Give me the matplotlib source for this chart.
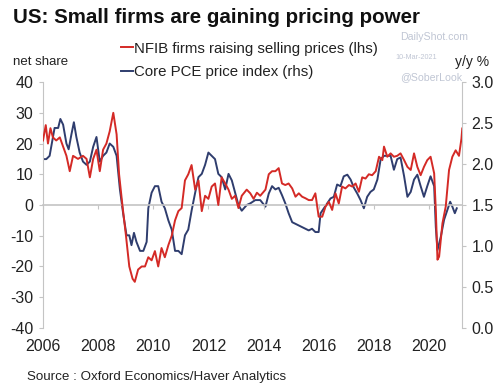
import matplotlib
matplotlib.use('Agg')
import matplotlib.pyplot as plt
import numpy as np

plt.rcParams['font.family'] = ['Liberation Sans', 'DejaVu Sans']
plt.rcParams['axes.unicode_minus'] = False

# NFIB firms raising selling prices, net share (lhs)
nfib_years = [2006.00, 2006.10, 2006.18, 2006.27, 2006.36, 2006.48, 2006.61, 2006.73, 2006.85,
              2006.97, 2007.09, 2007.27, 2007.45, 2007.58, 2007.70, 2007.82, 2007.94, 2008.06,
              2008.18, 2008.30, 2008.42, 2008.55, 2008.67, 2008.76, 2008.88, 2009.01, 2009.13,
              2009.25, 2009.33, 2009.45, 2009.58, 2009.70, 2009.82, 2009.94, 2010.06, 2010.18,
              2010.30, 2010.42, 2010.55, 2010.67, 2010.79, 2010.91, 2011.03, 2011.15, 2011.27,
              2011.39, 2011.52, 2011.64, 2011.76, 2011.88, 2012.00, 2012.12, 2012.24, 2012.36,
              2012.48, 2012.61, 2012.73, 2012.85, 2012.97, 2013.09, 2013.21, 2013.39,
              2013.52, 2013.64, 2013.76, 2013.88, 2014.07, 2014.19, 2014.31, 2014.43, 2014.55,
              2014.67, 2014.79, 2014.91, 2015.04, 2015.16, 2015.28, 2015.40, 2015.52, 2015.64,
              2015.76, 2015.88, 2016.00, 2016.13, 2016.25, 2016.37, 2016.49, 2016.61, 2016.73,
              2016.85, 2016.97, 2017.10, 2017.22, 2017.34, 2017.46, 2017.58, 2017.70, 2017.82,
              2017.94, 2018.07, 2018.19, 2018.31, 2018.37, 2018.49, 2018.61, 2018.73, 2018.85,
              2018.97, 2019.10, 2019.22, 2019.34, 2019.46, 2019.58, 2019.70, 2019.82, 2019.94,
              2020.06, 2020.19, 2020.25, 2020.31, 2020.37, 2020.49, 2020.61, 2020.73, 2020.85,
              2020.97, 2021.09, 2021.18, 2021.21]
nfib = [21, 26, 20, 25, 22, 21, 22, 19, 16,
        11, 16, 15, 16, 15, 9, 15, 18, 11,
        18, 20, 24, 30, 23, 10, 0, -10, -20,
        -24, -25, -21, -20, -20, -17, -18, -15, -20,
        -14, -17, -13, -10, -5, -2, -1, 8, 10,
        13, 5, 8, -2, 3, 2, 6, 7, 0,
        9, 7, 5, 2, 3, -1, 3, 5,
        3.8, 2, 4, 3, 5, 10, 11, 11, 12,
        7, 6.5, 7, 5.4, 2.7, 3.8, 2.7, 2.2, 1.6,
        1.6, 3.8, -3.8, -3.8, -0.5, 1, -1.6, 3.8, 0.5,
        6, 5.4, 6.5, 6, 7, 4.3, 9, 8.6, 10,
        9.7, 11, 15.7, 14.6, 19, 15.7, 16.8, 15.7, 16,
        16.8, 14.6, 12.4, 11.4, 16.8, 12.4, 9.7, 12.4, 14.6,
        15.7, 10.3, -1.6, -17.8, -16.8, -6, -0.5, 11.4, 15.7,
        17.8, 16, 21.6, 24.9]

# Core PCE price index, y/y % (rhs)
pce_years = [2006.00, 2006.12, 2006.24, 2006.36, 2006.42, 2006.55, 2006.63, 2006.73, 2006.85,
             2006.93, 2007.03, 2007.12, 2007.21, 2007.33, 2007.45, 2007.58, 2007.70, 2007.82,
             2007.94, 2008.06, 2008.18, 2008.30, 2008.42, 2008.55, 2008.67, 2008.79, 2008.91,
             2009.03, 2009.13, 2009.21, 2009.30, 2009.39, 2009.52, 2009.64, 2009.76, 2009.82,
             2009.94, 2010.06, 2010.18, 2010.30, 2010.42, 2010.55, 2010.67, 2010.79, 2010.91,
             2011.03, 2011.15, 2011.27, 2011.39, 2011.52, 2011.64, 2011.76, 2011.88, 2012.00,
             2012.12, 2012.24, 2012.36, 2012.48, 2012.61, 2012.73, 2012.85, 2012.97, 2013.09,
             2013.21, 2013.39,
             2013.52, 2013.70, 2013.88, 2014.07, 2014.19, 2014.31, 2014.43, 2014.55, 2014.67,
             2014.79, 2014.91, 2015.04, 2015.16, 2015.28, 2015.40, 2015.52, 2015.64, 2015.76,
             2015.88, 2016.00, 2016.07, 2016.19, 2016.31, 2016.43, 2016.55, 2016.67, 2016.79,
             2016.91, 2017.04, 2017.16, 2017.28, 2017.40, 2017.52, 2017.64, 2017.76, 2017.88,
             2018.00, 2018.13, 2018.25, 2018.37, 2018.49, 2018.61, 2018.73, 2018.85, 2018.97,
             2019.10, 2019.22, 2019.34, 2019.46, 2019.58, 2019.70, 2019.82, 2019.94, 2020.06,
             2020.19, 2020.25, 2020.31, 2020.43, 2020.55, 2020.67, 2020.77, 2020.85, 2020.94,
             2021.01]
pce = [2.06, 2.06, 2.10, 2.33, 2.44, 2.44, 2.55, 2.48, 2.25,
       2.18, 2.36, 2.51, 2.33, 2.14, 2.03, 1.99, 2.03, 2.21,
       2.33, 2.03, 2.10, 2.14, 2.25, 2.21, 2.10, 1.69, 1.39,
       1.13, 1.13, 1.01, 1.16, 1.05, 0.94, 0.94, 1.05, 1.46,
       1.65, 1.73, 1.73, 1.54, 1.46, 1.31, 1.20, 0.94, 0.94,
       0.90, 1.13, 1.20, 1.43, 1.65, 1.84, 1.88, 1.99, 2.14,
       2.10, 2.06, 1.88, 1.84, 1.69, 1.88, 1.80, 1.65, 1.50,
       1.43, 1.50,
       1.52, 1.56, 1.56, 1.48, 1.64, 1.73, 1.69, 1.71, 1.62,
       1.52, 1.40, 1.29, 1.27, 1.25, 1.23, 1.21, 1.19, 1.21,
       1.17, 1.17, 1.40, 1.46, 1.52, 1.58, 1.60, 1.75, 1.73,
       1.85, 1.87, 1.81, 1.71, 1.64, 1.56, 1.46, 1.60, 1.66,
       1.69, 1.81, 2.06, 2.10, 2.10, 2.10, 1.93, 2.06, 2.08,
       1.85, 1.60, 1.66, 1.81, 1.87, 1.73, 1.60, 1.73, 1.85,
       1.73, 1.23, 0.95, 1.11, 1.32, 1.44, 1.54, 1.48, 1.40,
       1.46]

year_ticks = [2006, 2008, 2010, 2012, 2014, 2016, 2018, 2020]
left_ticks = [-40, -30, -20, -10, 0, 10, 20, 30, 40]
right_ticks = [0.0, 0.5, 1.0, 1.5, 2.0, 2.5, 3.0]

red = '#d42a26'
blue = '#2f3d6e'
spine_col = '#c4c4c4'
text_col = '#222222'

fig = plt.figure(figsize=(5, 3.89), dpi=100)
ax = fig.add_axes([0.086, 0.157, 0.838, 0.632])
ax2 = ax.twinx()

ax.plot(nfib_years, nfib, color=red, lw=1.4, zorder=3)
ax2.plot(pce_years, pce, color=blue, lw=1.4, zorder=2)
ax.set_zorder(ax2.get_zorder() + 1)
ax.patch.set_visible(False)

ax.set_xlim(2006, 2021.2)
ax.set_ylim(-40, 40)
ax2.set_ylim(0, 3)
ax.set_yticks(left_ticks)
ax2.set_yticks(right_ticks)
ax2.set_yticklabels(['%.1f' % t for t in right_ticks])

# zero line with year ticks
ax.spines['bottom'].set_position(('data', 0))
ax.spines['bottom'].set_color(spine_col)
ax.spines['bottom'].set_linewidth(1.2)
ax.set_xticks(year_ticks)
ax.tick_params(axis='x', length=3, color=spine_col, labelbottom=False)

sec = ax.secondary_xaxis(0)
sec.set_xticks(year_ticks)
sec.tick_params(length=0, pad=8, labelsize=11.5, labelcolor=text_col)
sec.spines['bottom'].set_visible(False)

for a in (ax, ax2):
    a.spines['top'].set_visible(False)
ax.spines['right'].set_visible(False)
ax2.spines['bottom'].set_visible(False)
ax2.spines['left'].set_visible(False)
ax.spines['left'].set_color(spine_col)
ax2.spines['right'].set_color(spine_col)
ax.tick_params(axis='y', length=3, color=spine_col, labelsize=11.5, labelcolor=text_col, pad=4)
ax2.tick_params(axis='y', length=3, color=spine_col, labelsize=11.5, labelcolor=text_col, pad=4)

fig.text(0.026, 0.955, 'US: Small firms are gaining pricing power', fontsize=14.8,
         fontweight='bold', color='#111111', va='center', ha='left')
fig.text(0.026, 0.84, 'net share', fontsize=9.5, color=text_col, va='center')
fig.text(0.91, 0.84, 'y/y %', fontsize=10, color=text_col, va='center')
fig.text(0.054, 0.03, 'Source : Oxford Economics/Haver Analytics', fontsize=9.6,
         color=text_col, va='center')
fig.text(0.80, 0.905, 'DailyShot.com', fontsize=7.6, color='#c0c6d4', va='center')
fig.text(0.79, 0.852, '10-Mar-2021', fontsize=5.2, color='#c0c6d4', va='center')
fig.text(0.80, 0.802, '@SoberLook', fontsize=7.6, color='#c0c6d4', va='center')

h1, = ax.plot([], [], color=red, lw=1.4)
h2, = ax.plot([], [], color=blue, lw=1.4)
fig.legend([h1, h2], ['NFIB firms raising selling prices (lhs)', 'Core PCE price index (rhs)'],
           loc='upper left', bbox_to_anchor=(0.226, 0.912), frameon=False, fontsize=10.8,
           handlelength=0.8, handletextpad=0.12, labelspacing=0.62, borderpad=0,
           labelcolor=text_col)

fig.savefig('out.png', dpi=100, facecolor='white')
